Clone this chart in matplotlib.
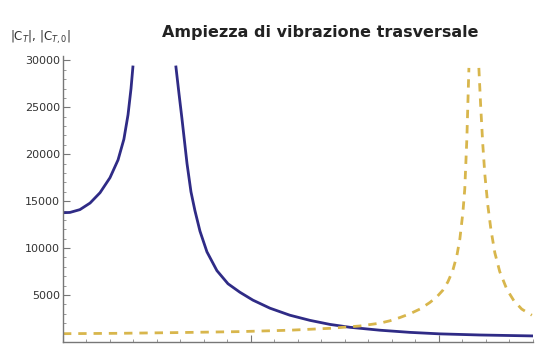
import matplotlib
matplotlib.use("Agg")
import matplotlib.pyplot as plt
from matplotlib.ticker import MultipleLocator

# |C_T| (solid blue), split around its resonance peak
blue_left_x = [0.0, 0.037, 0.09, 0.144, 0.197, 0.25, 0.293, 0.324, 0.346,
               0.362, 0.372]
blue_left_y = [13770, 13800, 14100, 14800, 15900, 17500, 19400, 21600, 24200,
               27000, 29300]
blue_right_x = [0.601, 0.617, 0.633, 0.66, 0.681, 0.702, 0.729, 0.766, 0.819,
                0.878, 0.941, 1.011, 1.101, 1.207, 1.314, 1.42, 1.527, 1.686,
                1.846, 2.005, 2.218, 2.5]
blue_right_y = [29300, 26500, 23800, 19000, 16000, 14000, 11800, 9600, 7600,
                6200, 5300, 4450, 3600, 2850, 2300, 1870, 1560, 1250,
                1020, 860, 740, 640]

# |C_T,0| (dashed yellow), split around its resonance peak
yel_left_x = [0.0, 0.303, 0.622, 0.941, 1.207, 1.42, 1.58, 1.686, 1.739,
              1.793, 1.846, 1.899, 1.952, 1.989, 2.021, 2.048, 2.074, 2.096,
              2.112, 2.128, 2.138, 2.149, 2.16]
yel_left_y = [880, 920, 1000, 1100, 1250, 1450, 1700, 2000, 2250,
              2600, 3000, 3500, 4200, 4800, 5500, 6400, 7600, 9200,
              11000, 13800, 16300, 21600, 29200]
yel_right_x = [2.213, 2.223, 2.234, 2.245, 2.261, 2.277, 2.298, 2.324, 2.362,
               2.399, 2.441, 2.495]
yel_right_y = [29200, 25000, 21000, 17800, 14500, 12000, 9500, 7500, 5600,
               4400, 3500, 2850]

fig = plt.figure(figsize=(5.55, 3.44), dpi=100)
ax = fig.add_axes([0.1135, 0.006, 0.8465, 0.832])

blue = "#2f2b86"
gold = "#d8b64c"
ax.plot(blue_left_x, blue_left_y, color=blue, lw=2)
ax.plot(blue_right_x, blue_right_y, color=blue, lw=2)
ax.plot(yel_left_x, yel_left_y, color=gold, lw=2, ls=(0, (3, 2.5)))
ax.plot(yel_right_x, yel_right_y, color=gold, lw=2, ls=(0, (3, 2.5)))

ax.set_xlim(0, 2.5)
ax.set_ylim(0, 30500)
ax.yaxis.set_major_locator(MultipleLocator(5000))
ax.yaxis.set_minor_locator(MultipleLocator(1000))
ax.xaxis.set_major_locator(MultipleLocator(1))
ax.xaxis.set_minor_locator(MultipleLocator(0.125))
ax.set_xticklabels([])
ax.set_yticks([5000, 10000, 15000, 20000, 25000, 30000])
ax.tick_params(axis="both", which="major", direction="in", length=5,
               color="#777777", labelsize=8, labelcolor="#333333", pad=2)
ax.tick_params(axis="both", which="minor", direction="in", length=2.5,
               color="#888888")
for side in ["top", "right"]:
    ax.spines[side].set_visible(False)
for side in ["left", "bottom"]:
    ax.spines[side].set_color("#777777")
    ax.spines[side].set_linewidth(1)

fig.text(0.577, 0.905, "Ampiezza di vibrazione trasversale", ha="center",
         va="center", fontsize=11.5, fontweight="bold", color="#222222")
fig.text(0.018, 0.89, "|C$_T$|, |C$_{T,0}$|", ha="left", va="center",
         fontsize=8.5, color="#333333")

fig.savefig("out.png", dpi=100)
